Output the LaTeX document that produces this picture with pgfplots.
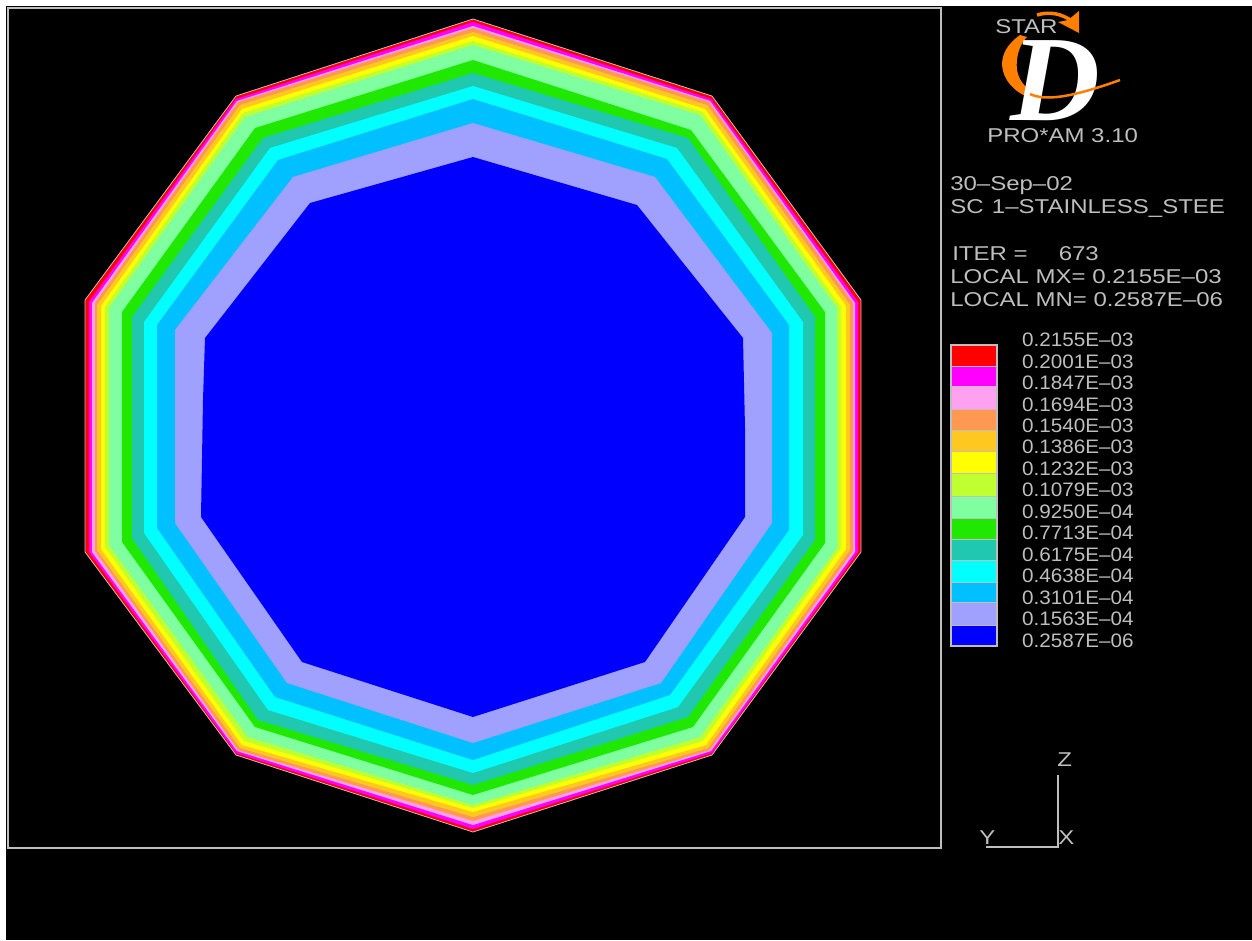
\documentclass[border=0pt]{standalone}
\usepackage{fontspec}
\setmainfont{Liberation Sans}
\newfontfamily\dfont{Liberation Serif}
\usepackage{pgfplots}
\pgfplotsset{compat=1.18}
\definecolor{cRed}{HTML}{FF0000}
\definecolor{cMag}{HTML}{FF00FF}
\definecolor{cPink}{HTML}{FFA0F0}
\definecolor{cOrange}{HTML}{FF9850}
\definecolor{cGold}{HTML}{FFC820}
\definecolor{cYellow}{HTML}{FFFF00}
\definecolor{cLime}{HTML}{C0FF30}
\definecolor{cMint}{HTML}{80FFA0}
\definecolor{cGreen}{HTML}{20E800}
\definecolor{cTeal}{HTML}{20C8B0}
\definecolor{cCyan}{HTML}{00FFFF}
\definecolor{cSky}{HTML}{00C0FF}
\definecolor{cPeri}{HTML}{A0A0FF}
\definecolor{cBlue}{HTML}{0000FF}
\definecolor{txt}{HTML}{BEBEBE}
\definecolor{logoO}{HTML}{FF8000}
\newcommand{\band}[2]{\addplot[fill=#1,draw=none,forget plot] coordinates {#2} --cycle;}
\newcommand{\lab}[2]{\node[anchor=west,inner sep=0pt,xscale=1.2,text=txt,font=\fontsize{20}{20}\selectfont] at (axis cs:#1) {#2};}
\newcommand{\leg}[2]{\node[anchor=west,inner sep=0pt,xscale=1.06,text=txt,font=\fontsize{19.5}{20}\selectfont] at (axis cs:1022,#1) {#2};}
\begin{document}
\begin{tikzpicture}
\begin{axis}[scale only axis,width=1252pt,height=940pt,xmin=0,xmax=1252,ymin=0,ymax=940,y dir=reverse,axis lines=none,clip=false,ticks=none]
% background
\band{white}{(0,0)(1252,0)(1252,940)(0,940)}
\band{black}{(6,6)(1252,6)(1252,940)(6,940)}
\addplot[color=txt,line width=2pt,forget plot] coordinates {(8,8)(941,8)(941,848)(8,848)} --cycle;
% contour bands, outer to inner
\addplot[fill=cRed,draw=txt,line width=0.8pt,forget plot] coordinates {(473,19)(712,96)(861,300)(861,552)(712,755)(473,832)(236,755)(85,552)(85,300)(236,96)} --cycle;
\band{cMag}{(473,22)(711,99)(858,302)(858,552)(712,753)(473,829)(236,753)(89,552)(89,302)(236,99)}
\band{cPink}{(473,26)(710,101)(855,303)(855,552)(711,751)(473,825)(237,751)(92,552)(92,303)(237,101)}
\band{cOrange}{(473,28)(709,102)(853,303)(853,551)(710,750)(473,821)(238,750)(95,551)(95,303)(238,102)}
\band{cGold}{(473,32)(707,105)(850,305)(850,550)(708,748)(473,817)(240,748)(97,550)(97,305)(240,105)}
\band{cYellow}{(473,36)(705,109)(846,306)(846,549)(706,745)(473,812)(242,745)(101,549)(101,306)(242,109)}
\band{cLime}{(473,41)(703,112)(841,307)(841,548)(703,741)(473,808)(244,741)(105,547)(105,307)(243,113)}
\band{cMint}{(473,45)(700,115)(837,308)(837,548)(700,737)(473,805)(248,737)(109,545)(109,308)(245,117)}
\band{cGreen}{(473,60)(691,130)(825,312)(825,543)(693,727)(473,795)(255,727)(122,542)(122,312)(255,128)}
\band{cTeal}{(473,73)(688,138)(815,317)(815,540)(688,717)(473,785)(258,720)(132,538)(132,317)(263,138)}
\band{cCyan}{(473,86)(677,148)(803,322)(803,535)(678,707)(473,773)(268,710)(144,533)(144,322)(270,148)}
\band{cSky}{(473,99)(667,159)(789,325)(789,530)(670,695)(473,760)(275,697)(157,528)(157,325)(278,160)}
\band{cPeri}{(473,123)(655,177)(772,333)(772,523)(661,683)(473,743)(287,683)(175,523)(175,330)(293,177)}
\band{cBlue}{(473,157)(637,205)(743,338)(745,428)(745,517)(645,662)(473,717)(302,662)(201,517)(203,400)(205,338)(310,203)}
% legend swatches
\addplot[fill=white!75!black,draw=txt,line width=1.5pt,forget plot] coordinates {(951,345)(997,345)(997,646)(951,646)} --cycle;
\band{cRed}{(952,346)(996,346)(996,365.5)(952,365.5)}
\band{cMag}{(952,366.5)(996,366.5)(996,386)(952,386)}
\band{cPink}{(952,387)(996,387)(996,409)(952,409)}
\band{cOrange}{(952,410)(996,410)(996,429.5)(952,429.5)}
\band{cGold}{(952,430.5)(996,430.5)(996,451)(952,451)}
\band{cYellow}{(952,452)(996,452)(996,473)(952,473)}
\band{cLime}{(952,474)(996,474)(996,495.5)(952,495.5)}
\band{cMint}{(952,496.5)(996,496.5)(996,518)(952,518)}
\band{cGreen}{(952,519)(996,519)(996,538.5)(952,538.5)}
\band{cTeal}{(952,539.5)(996,539.5)(996,559.5)(952,559.5)}
\band{cCyan}{(952,560.5)(996,560.5)(996,582)(952,582)}
\band{cSky}{(952,583)(996,583)(996,602)(952,602)}
\band{cPeri}{(952,603)(996,603)(996,625)(952,625)}
\band{cBlue}{(952,626)(996,626)(996,645)(952,645)}
% legend labels
\leg{340}{0.2155E–03}
\leg{362}{0.2001E–03}
\leg{383}{0.1847E–03}
\leg{405}{0.1694E–03}
\leg{426}{0.1540E–03}
\leg{447}{0.1386E–03}
\leg{469}{0.1232E–03}
\leg{490}{0.1079E–03}
\leg{512}{0.9250E–04}
\leg{533}{0.7713E–04}
\leg{555}{0.6175E–04}
\leg{576}{0.4638E–04}
\leg{598}{0.3101E–04}
\leg{619}{0.1563E–04}
\leg{641}{0.2587E–06}
% logo
\fill[logoO] (axis cs:1020,35) .. controls (axis cs:1006,45) and (axis cs:1002,55) .. (axis cs:1002,65) .. controls (axis cs:1003,80) and (axis cs:1014,92) .. (axis cs:1030,98) -- (axis cs:1032,92) .. controls (axis cs:1022,85) and (axis cs:1015,75) .. (axis cs:1017,60) .. controls (axis cs:1018,50) and (axis cs:1022,42) .. (axis cs:1027,37) -- cycle;
\draw[logoO,line width=3.5pt] (axis cs:1037,15) .. controls (axis cs:1050,11) and (axis cs:1062,14) .. (axis cs:1072,21);
\fill[logoO] (axis cs:1079,11) -- (axis cs:1079,33) -- (axis cs:1058,22) -- (axis cs:1068,20) -- cycle;
\node[anchor=base,inner sep=0pt,xscale=1.02,text=white,font=\dfont\itshape\bfseries\fontsize{122}{122}\selectfont] at (axis cs:1055,120) {D};
\draw[logoO,line width=2.5pt] (axis cs:1030,94) .. controls (axis cs:1045,101) and (axis cs:1070,98) .. (axis cs:1120,80);
\node[anchor=west,inner sep=0pt,xscale=1.2,text=txt,font=\fontsize{20}{20}\selectfont] at (axis cs:995,27) {STAR};
\lab{987,136}{PRO*AM 3.10}
\lab{950,186}{30–Sep–02}
\lab{950,208}{SC\hspace{7pt}1–STAINLESS\_STEE}
\lab{952,254}{ITER =\hspace{26pt}673}
\lab{950,277}{LOCAL MX= 0.2155E–03}
\lab{950,300}{LOCAL MN= 0.2587E–06}
% triad
\addplot[color=txt,line width=1.5pt,forget plot] coordinates {(1058,775)(1058,847)(986,847)};
\lab{1057,760}{Z}
\lab{979,838}{Y}
\lab{1058,838}{X}
\end{axis}
\end{tikzpicture}
\end{document}
